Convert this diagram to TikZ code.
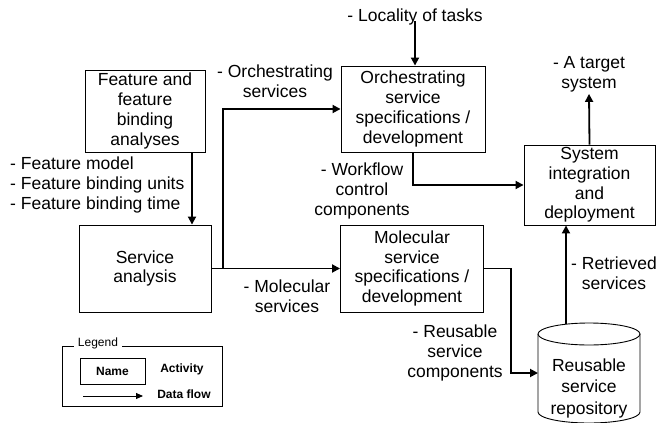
\documentclass[tikz,border=0pt]{standalone}
\usepackage{fontspec}
\setmainfont{Liberation Sans}
\usetikzlibrary{arrows.meta,calc}
\begin{document}
\begin{tikzpicture}[x=1pt,y=-1pt,
  every node/.style={font=\fontsize{17.5}{19.8}\selectfont, align=center, inner sep=0pt},
  box/.style={draw, line width=0.9pt, rectangle},
  arr/.style={line width=1.8pt, -{Triangle[length=8pt,width=8pt]}},
  legtext/.style={font=\bfseries\fontsize{12}{14}\selectfont}]
\useasboundingbox (0,0) rectangle (656,423);
% boxes
\node[box, minimum width=120, minimum height=82] (feat) at (145,111) {Feature and\\feature\\binding\\analyses};
\node[box, minimum width=132, minimum height=87] (sa) at (145,268.5) {Service\\analysis};
\node[box, minimum width=144, minimum height=86] (orch) at (413,109) {Orchestrating\\service\\specifications /\\development};
\node[box, minimum width=143, minimum height=87] (mol) at (412,268.5) {Molecular\\service\\specifications /\\development};
\node[box, minimum width=131, minimum height=80] (sys) at (589.5,185) {System\\integration\\and\\deployment};
% repository cylinder
\draw[line width=0.9pt] (538,334) -- (538,412) arc[start angle=180,end angle=0,x radius=51,y radius=11] -- (640,334);
\draw[line width=0.9pt] (589,334) ellipse[x radius=51,y radius=11];
\node[font=\fontsize{17.5}{21.5}\selectfont] (repo) at (589,388) {Reusable\\service\\repository};
\coordinate (repoL) at (538,373);
\coordinate (repoT) at (566,324);
% labels
\node (loc) at (415,17) {- Locality of tasks};
\node (tgt) at (589,74) {- A target\\system};
\node (orl) at (275,81) {- Orchestrating\\services};
\node[anchor=west, align=left] (fl) at (10,185) {- Feature model\\- Feature binding units\\- Feature binding time};
\node (wf) at (362,191) {- Workflow\\control\\components};
\node (ml) at (287,296) {- Molecular\\services};
\node (rl) at (455,353) {- Reusable\\service\\components};
\node (rt) at (614,273) {- Retrieved\\services};
% connectors
\draw[arr] ([xshift=47]feat.south) -- ([xshift=47]sa.north);
\draw[arr] (sa.east) -- (mol.west);
\coordinate (br) at (223,268.5);
\draw[arr] (br) |- (orch.west);
\draw[arr] ([yshift=4]loc.south) -- (loc.south |- orch.north);
\draw[arr] (orch.south) |- (sys.west);
\draw[arr] (sys.north) -- ([yshift=-2]tgt.south);
\draw[arr] (mol.east) -- ++(27,0) |- (repoL);
\draw[arr] (repoT) -- (repoT |- sys.south);
% legend
\draw[line width=0.9pt] (62,346) rectangle (222,406);
\node[fill=white, inner xsep=4pt, font=\fontsize{12}{14}\selectfont] (lg) at (98,343) {Legend};
\node[box, minimum width=65, minimum height=26, legtext] (nm) at (112.5,371) {Name};
\node[legtext] (act) at (182,369) {Activity};
\coordinate (la) at (83,396);
\coordinate (lb) at (143,396);
\draw[line width=0.9pt, -{Triangle[length=7pt,width=6pt]}] (la) -- (lb);
\node[legtext] (df) at (184,394) {Data flow};
\end{tikzpicture}
\end{document}
